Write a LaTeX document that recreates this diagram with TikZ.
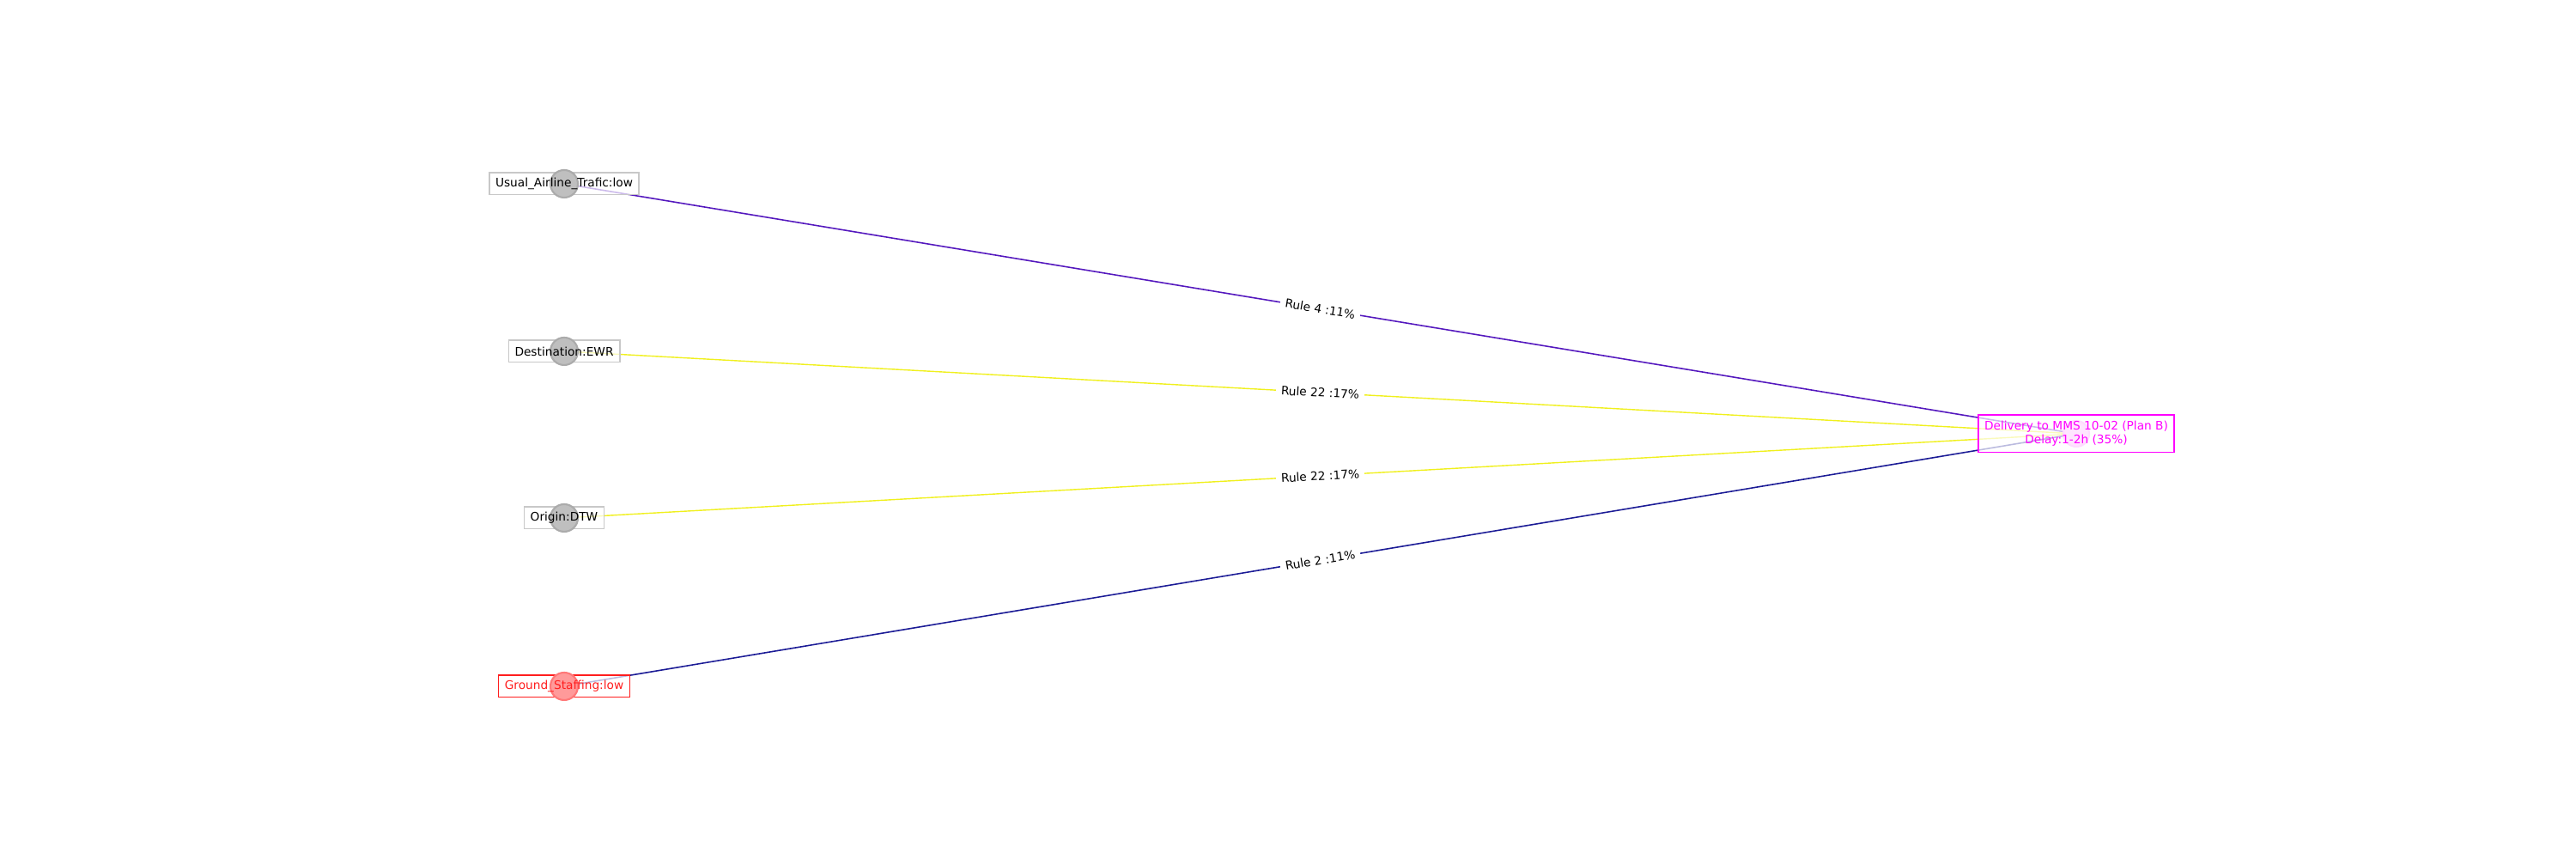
\documentclass[tikz,border=0pt]{standalone}
\usepackage{fontspec}
\setmainfont{DejaVu Sans}
\usepackage{tikz}
\usetikzlibrary{calc}

\definecolor{rulepurple}{RGB}{85,25,190}
\definecolor{rulenavy}{RGB}{28,28,150}
\definecolor{ruleyellow}{RGB}{240,240,30}
\definecolor{featgray}{RGB}{200,200,200}
\definecolor{featred}{RGB}{255,30,30}
\definecolor{targetpink}{RGB}{255,0,255}

\pgfdeclarelayer{edgelayer}
\pgfdeclarelayer{boxlayer}
\pgfdeclarelayer{dotlayer}
\pgfsetlayers{edgelayer,boxlayer,dotlayer,main}

\begin{document}
\begin{tikzpicture}[
  every node/.style={font=\fontsize{3.9}{4.55}\selectfont},
  feat/.style={inner xsep=1.85pt, inner ysep=1.2pt, minimum height=0.24cm},
  boxframe/.style={draw=#1, fill=white, fill opacity=0.7, line width=0.45pt},
  rulelbl/.style={sloped, fill=white, inner sep=1.7pt, text=black}
]
  \useasboundingbox (0,0) rectangle (30,10);

  %% Target node on the right
  \node[feat, align=center, text=targetpink, minimum height=0.42cm] (DELIV) at (24.18,4.95)
    {Delivery to MMS 10-02 (Plan B)\\Delay:1-2h (35\%)};
  \begin{pgfonlayer}{boxlayer}
    \path[boxframe=targetpink] (DELIV.south west) rectangle (DELIV.north east);
  \end{pgfonlayer}
  \begin{pgfonlayer}{dotlayer}
    \filldraw[fill=targetpink!10, draw=targetpink!14, line width=0.6pt] (DELIV.center) circle (0.15);
  \end{pgfonlayer}

  %% Feature nodes on the left
  \foreach \nd/\yy/\col/\txt in {UAT/7.86/black/{Usual\_Airline\_Trafic:low},
                                 DEST/5.91/black/{Destination:EWR},
                                 ORIG/3.97/black/{Origin:DTW},
                                 GRND/2.01/featred/{Ground\_Staffing:low}}
  {
    \node[feat, text=\col] (\nd) at (6.57,\yy) {\txt};
  }
  \begin{pgfonlayer}{boxlayer}
    \foreach \nd in {UAT,DEST,ORIG}
      \path[boxframe=featgray] (\nd.south west) rectangle (\nd.north east);
    \path[boxframe=featred] (GRND.south west) rectangle (GRND.north east);
  \end{pgfonlayer}
  \begin{pgfonlayer}{dotlayer}
    \foreach \nd in {UAT,DEST,ORIG}
      \filldraw[fill=black!25, draw=black!33, line width=0.6pt] (\nd.center) circle (0.16);
    \filldraw[fill=featred!45!white, draw=featred!60!white, line width=0.6pt] (GRND.center) circle (0.16);
  \end{pgfonlayer}

  %% Rules linking features to the target
  \begin{pgfonlayer}{edgelayer}
    \foreach \nd/\col/\edgew/\txt in {UAT/rulepurple/0.45pt/{Rule 4 :11\%},
                                      DEST/ruleyellow/0.4pt/{Rule 22 :17\%},
                                      ORIG/ruleyellow/0.4pt/{Rule 22 :17\%},
                                      GRND/rulenavy/0.45pt/{Rule 2 :11\%}}
    {
      \draw[\col, line width=\edgew] (\nd.center) -- node[rulelbl] {\txt} (DELIV.center);
    }
  \end{pgfonlayer}
\end{tikzpicture}
\end{document}
